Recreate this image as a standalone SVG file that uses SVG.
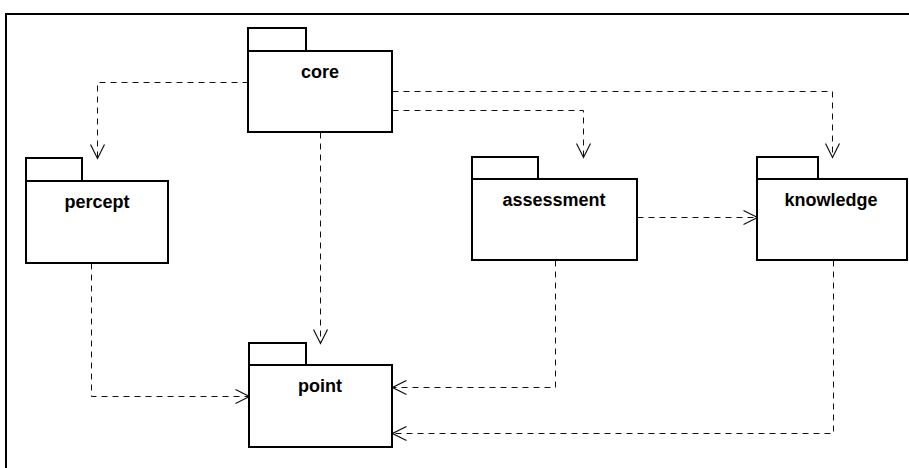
<svg xmlns="http://www.w3.org/2000/svg" width="909" height="468" viewBox="0 0 909 468">
<style>
.frame{fill:none;stroke:#000;stroke-width:2}
.pkg rect{fill:#fff;stroke:#000;stroke-width:2}
.pkg text{font-family:"Liberation Sans",Arial,sans-serif;font-weight:bold;font-size:18px;text-anchor:middle;fill:#000}
.dep{fill:none;stroke:#111;stroke-width:1;stroke-dasharray:6 5}
</style>
<defs>
<marker id="open" viewBox="-15 -8 16 16" refX="0" refY="0" markerWidth="16" markerHeight="16" markerUnits="userSpaceOnUse" orient="auto">
<path d="M-14,-7 L0,0 L-14,7" fill="none" stroke="#111" stroke-width="1.2"/>
</marker>
</defs>
<rect class="frame" x="6" y="14" width="920" height="470"/>
<g id="connectors" transform="translate(0.5,0.5)">
<path class="dep" d="M248,82 H97 V158" marker-end="url(#open)"/>
<path class="dep" d="M320,132 V343" marker-end="url(#open)"/>
<path class="dep" d="M392,110 H583 V157" marker-end="url(#open)"/>
<path class="dep" d="M392,91 H832 V157" marker-end="url(#open)"/>
<path class="dep" d="M637,217 H757" marker-end="url(#open)"/>
<path class="dep" d="M91,263 V396 H249" marker-end="url(#open)"/>
<path class="dep" d="M555,260 V387 H392" marker-end="url(#open)"/>
<path class="dep" d="M833,260 V433 H392" marker-end="url(#open)"/>
</g>
<g id="core" class="pkg">
<rect x="248" y="28" width="58" height="23"/>
<rect x="248" y="51" width="144" height="81"/>
<text x="320" y="78">core</text>
</g>
<g id="percept" class="pkg">
<rect x="26" y="158" width="56" height="23"/>
<rect x="26" y="181" width="142" height="82"/>
<text x="97" y="208">percept</text>
</g>
<g id="assessment" class="pkg">
<rect x="472" y="157" width="66" height="22"/>
<rect x="472" y="179" width="165" height="81"/>
<text x="554" y="206">assessment</text>
</g>
<g id="knowledge" class="pkg">
<rect x="757" y="157" width="61" height="22"/>
<rect x="757" y="179" width="150" height="81"/>
<text x="831" y="206">knowledge</text>
</g>
<g id="point" class="pkg">
<rect x="249" y="343" width="57" height="22"/>
<rect x="249" y="365" width="143" height="82"/>
<text x="320" y="392">point</text>
</g>
</svg>
